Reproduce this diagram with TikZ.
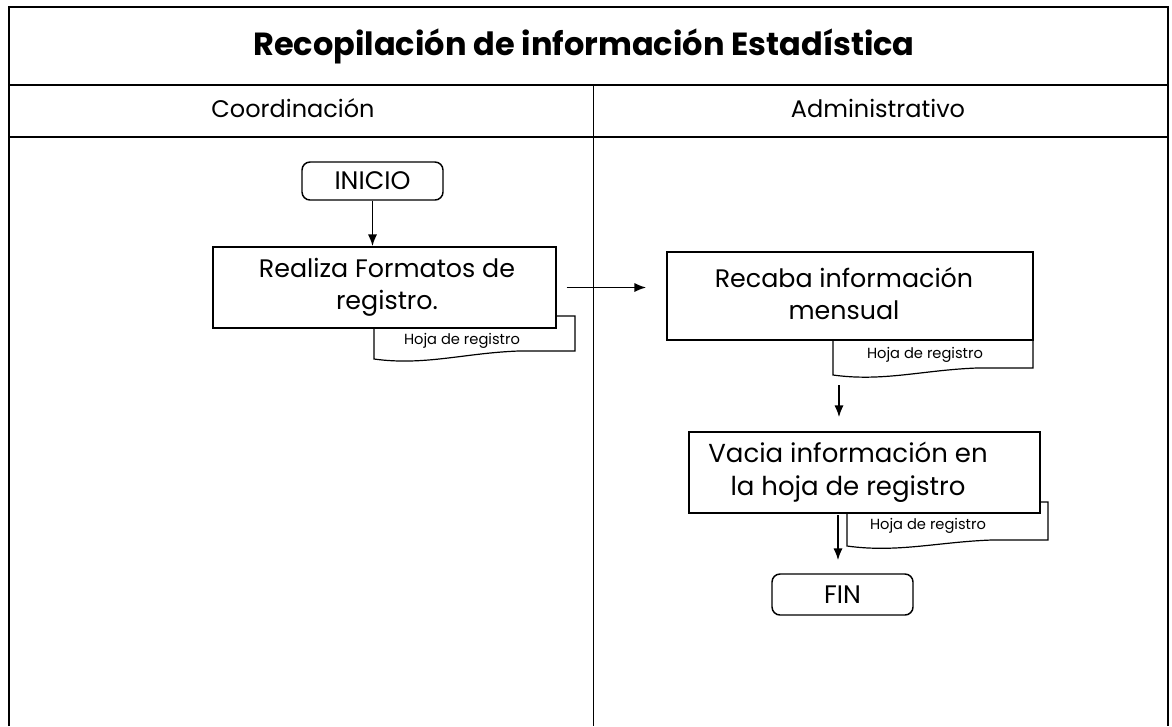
\documentclass[tikz,border=0pt]{standalone}
\usepackage{fontspec}
\setmainfont{Poppins}
\usetikzlibrary{arrows.meta}
\newcommand\docshape[6]{% name, L, R, T, Bl, Br
  \draw[docline,fill=white] (#2,#4) -- (#3,#4) -- (#3,#6) -- ({#2+0.72*(#3-#2)},#6)
    .. controls ({#2+0.45*(#3-#2)},{#6+2}) and ({#2+0.25*(#3-#2)},{#5+7}) .. (#2,#5) -- cycle;
}
\begin{document}
\begin{tikzpicture}[x=0.75pt,y=-0.75pt,
  frameline/.style={line width=1.4pt,black},
  divline/.style={line width=0.7pt,black},
  docline/.style={line width=0.9pt,black},
  procbox/.style={draw,line width=1.1pt,fill=white,inner sep=0pt},
  boxtext/.style={align=center,font=\fontsize{19}{24}\selectfont,inner sep=0pt},
  termbox/.style={draw,line width=1.1pt,rounded corners=6pt,fill=white,font=\fontsize{19}{20}\selectfont,inner sep=0pt},
  doctext/.style={font=\fontsize{11}{12}\selectfont,inner sep=0pt},
  flow/.style={line width=1.4pt,-{Latex[length=9pt,width=7pt]}}]
\useasboundingbox (0,0) rectangle (1172,726);
% frame
\draw[frameline] (9,726) -- (9,7) -- (1168,7) -- (1168,726);
\draw[frameline] (9,85) -- (1168,85);
\draw[frameline] (9,137) -- (1168,137);
\draw[divline] (593,85) -- (593,726);
% titles
\node[font=\bfseries\fontsize{24}{28}\selectfont] (title) at (584,46) {Recopilación de información Estadística};
\node[font=\fontsize{18}{21}\selectfont] (h1) at (293,108) {Coordinación};
\node[font=\fontsize{18}{21}\selectfont] (h2) at (878,108) {Administrativo};
% documents (behind boxes)
\docshape{d1}{374}{575}{316}{359}{351}
\node[doctext] (doc1) at (462,341) {Hoja de registro};
\docshape{d2}{833}{1033}{330}{375}{368}
\node[doctext] (doc2) at (925,355) {Hoja de registro};
\docshape{d3}{847}{1048}{502}{546}{540}
\node[doctext] (doc3) at (928,526) {Hoja de registro};
% nodes
\node[termbox,minimum width=105.75pt,minimum height=28.5pt] (inicio) at (372.5,181) {INICIO};
\node[procbox,minimum width=257.25pt,minimum height=60.75pt] (realiza) at (384.5,287.5) {};
\node[boxtext] (realizat) at (387,287.5) {Realiza Formatos de\\registro.};
\node[procbox,minimum width=274.5pt,minimum height=66pt] (recaba) at (850,296) {};
\node[boxtext] (recabat) at (844,294) {Recaba información\\mensual};
\node[procbox,minimum width=263.25pt,minimum height=60.75pt] (vacia) at (864.5,472.5) {};
\node[boxtext,font=\fontsize{19.5}{24.5}\selectfont] (vaciat) at (848,472.5) {Vacia información en\\la hoja de registro};
\node[termbox,minimum width=105.75pt,minimum height=30.75pt] (fin) at (842.5,594.5) {FIN};
% connectors
\coordinate (a1) at (839,385);
\coordinate (a2) at (838,515);
\draw[flow] (inicio.south) -- (inicio.south |- realiza.north);
\draw[flow,shorten <=7.5pt,shorten >=15pt] (realiza.east) -- (realiza.east -| recaba.west);
\draw[flow,shorten >=10.5pt] (a1) -- (a1 |- vacia.north);
\draw[flow,shorten >=9.75pt] (a2) -- (a2 |- fin.north);
\end{tikzpicture}
\end{document}
